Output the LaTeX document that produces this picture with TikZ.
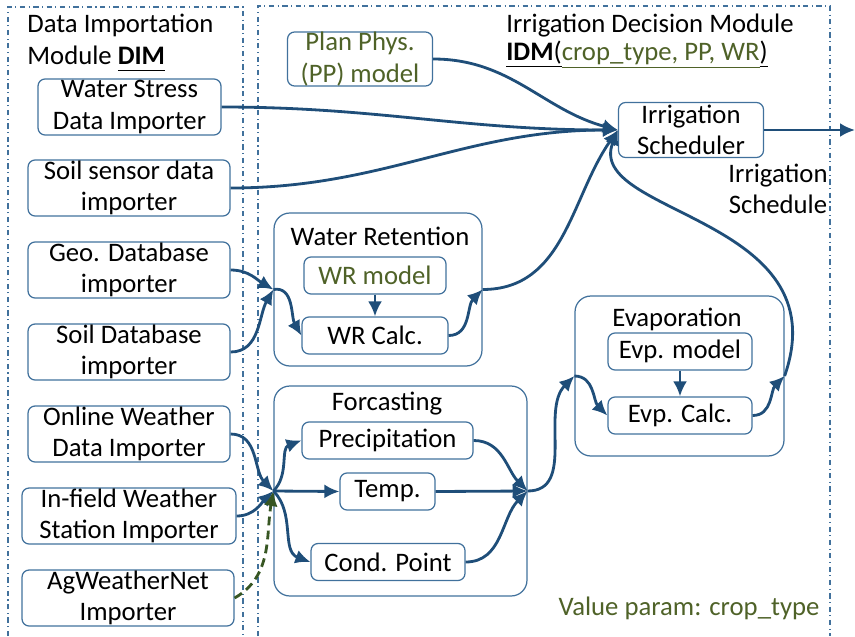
\documentclass[tikz,border=0pt]{standalone}
\usepackage{fontspec}
\setmainfont{Carlito}
\usetikzlibrary{arrows.meta}
\definecolor{boxblue}{RGB}{65,113,156}
\definecolor{lineblue}{RGB}{31,78,121}
\definecolor{pgreen}{RGB}{79,98,40}
\definecolor{dgreen}{RGB}{55,86,35}
\newcommand{\ulin}[1]{\underline{#1\vphantom{()}}}

\begin{document}
\begin{tikzpicture}[x=0.02cm, y=0.02cm, every node/.style={font=\fontsize{15.2}{18}\selectfont},
	box/.style={draw=boxblue, line width=0.7pt, rounded corners=4pt, align=center, inner sep=0pt},
	tall/.style={box, minimum height=1.12cm, execute at begin node=\rule{0pt}{14pt}},
	grp/.style={draw=boxblue, line width=0.7pt, rounded corners=9pt, inner sep=0pt},
	module/.style={draw=boxblue, line width=0.6pt, dash dot},
	flow/.style={draw=lineblue, line width=1.6pt, -{Latex[length=3mm,width=2.8mm]}}]
	\useasboundingbox (0,0) rectangle (855,-636);
	% module frames
	\draw[module] (8,-636) -- (8,-7) -- (243,-7) -- (243,-636);
	\draw[module] (258,-636) -- (258,-6) -- (830,-6) -- (830,-636);
	\node[anchor=west, align=left, inner sep=0pt] (dimtitle) at (27,-43) {Data Importation\\Module \ulin{\textbf{DIM}}};
	\node[anchor=west, align=left, inner sep=0pt] (idmtitle) at (506,-41) {Irrigation Decision Module\\[-2pt]\ulin{\textbf{IDM}(}\textcolor{pgreen}{\ulin{crop\_type, PP, WR}}\ulin{)}};
	% importers
	\node[tall, minimum width=3.66cm] (ws) at (129.5,-107) {Water Stress\\Data Importer};
	\node[tall, minimum width=4.04cm] (ss) at (129,-188) {Soil sensor data\\importer};
	\node[tall, minimum width=4.04cm] (geo) at (129,-270) {Geo. Database\\importer};
	\node[tall, minimum width=4.04cm] (soildb) at (129,-352) {Soil Database\\importer};
	\node[tall, minimum width=4.04cm] (online) at (129,-434) {Online Weather\\Data Importer};
	\node[tall, minimum width=4.28cm] (infield) at (129,-516) {In-field Weather\\Station Importer};
	\node[tall, minimum width=4.24cm] (agnet) at (128,-598) {AgWeatherNet\\Importer};
	% decision module
	\node[tall, text=pgreen, minimum width=2.9cm, minimum height=1.08cm] (pp) at (360,-59) {Plan Phys.\\(PP) model};
	\node[tall, minimum width=2.9cm, minimum height=1.1cm] (sched) at (691,-130) {Irrigation\\Scheduler};
	\node[align=center, inner sep=0pt] (schedout) at (778,-189) {Irrigation\\Schedule};
	\coordinate (out) at (855,-130);
	\node[grp, minimum width=4.16cm, minimum height=3.06cm] (wrgrp) at (378,-289.5) {};
	\node (wrtitle) at (380,-236) {Water Retention};
	\node[box, text=pgreen, minimum width=2.84cm, minimum height=0.74cm] (wrmodel) at (375,-275.5) {WR model};
	\node[box, minimum width=2.92cm, minimum height=0.74cm] (wrcalc) at (375,-335.5) {WR Calc.};
	\node[grp, minimum width=5.06cm, minimum height=4.2cm] (fcgrp) at (400.5,-491) {};
	\node (fctitle) at (387,-404) {Forcasting};
	\node[box, minimum width=3.42cm, minimum height=0.74cm] (precip) at (387.5,-440.5) {Precipitation};
	\node[box, minimum width=1.9cm, minimum height=0.74cm] (temp) at (387.5,-491.5) {Temp.};
	\node[box, minimum width=3.08cm, minimum height=0.74cm] (cpoint) at (388,-562) {Cond. Point};
	\node[grp, minimum width=4.18cm, minimum height=3.2cm] (evgrp) at (679.5,-376) {};
	\node (evtitle) at (677,-319) {Evaporation};
	\node[box, minimum width=2.88cm, minimum height=0.74cm] (evmodel) at (680,-351.5) {Evp. model};
	\node[box, minimum width=2.88cm, minimum height=0.74cm] (evcalc) at (680,-415.5) {Evp. Calc.};
	\node[text=pgreen, inner sep=0pt] (vparam) at (689,-608) {Value param: crop\_type};
	% connectors
	\draw[flow] (sched.east) -- (out);
	\draw[flow] (ws.east) to[out=0, in=180] (sched.west);
	\draw[flow] (ss.east) to[out=0, in=180] (sched.west);
	\draw[flow] (pp.east) to[out=0, in=165] (sched.west);
	\draw[flow] (wrgrp.east) to[out=0, in=235] (sched.west);
	\draw[flow] (evgrp.east) .. controls +(56,160) and +(-34,-85) .. (sched.west);
	\draw[flow] (geo.east) to[out=0, in=150] (wrgrp.west);
	\draw[flow] (soildb.east) to[out=0, in=240] (wrgrp.west);
	\draw[flow] (wrgrp.west) to[out=10, in=120] (wrcalc.west);
	\draw[flow] (wrmodel) -- (wrcalc);
	\draw[flow] (wrcalc.east) to[out=0, in=225] (wrgrp.east);
	\draw[flow] (online.east) to[out=0, in=135] (fcgrp.west);
	\draw[flow] (infield.east) to[out=0, in=225] (fcgrp.west);
	\draw[flow, draw=dgreen, dash pattern=on 5pt off 3pt] (agnet.east) to[out=30, in=260] (fcgrp.west);
	\draw[flow] (fcgrp.west) to[out=45, in=200] (precip.west);
	\draw[flow] (fcgrp.west) -- (temp.west);
	\draw[flow] (fcgrp.west) to[out=-45, in=160] (cpoint.west);
	\draw[flow] (precip.east) to[out=0, in=135] (fcgrp.east);
	\draw[flow] (temp.east) -- (fcgrp.east);
	\draw[flow] (cpoint.east) to[out=0, in=225] (fcgrp.east);
	\draw[flow] (fcgrp.east) to[out=0, in=225] (evgrp.west);
	\draw[flow] (evgrp.west) to[out=0, in=135] (evcalc.west);
	\draw[flow] (evmodel) -- (evcalc);
	\draw[flow] (evcalc.east) to[out=0, in=225] (evgrp.east);
\end{tikzpicture}
\end{document}
